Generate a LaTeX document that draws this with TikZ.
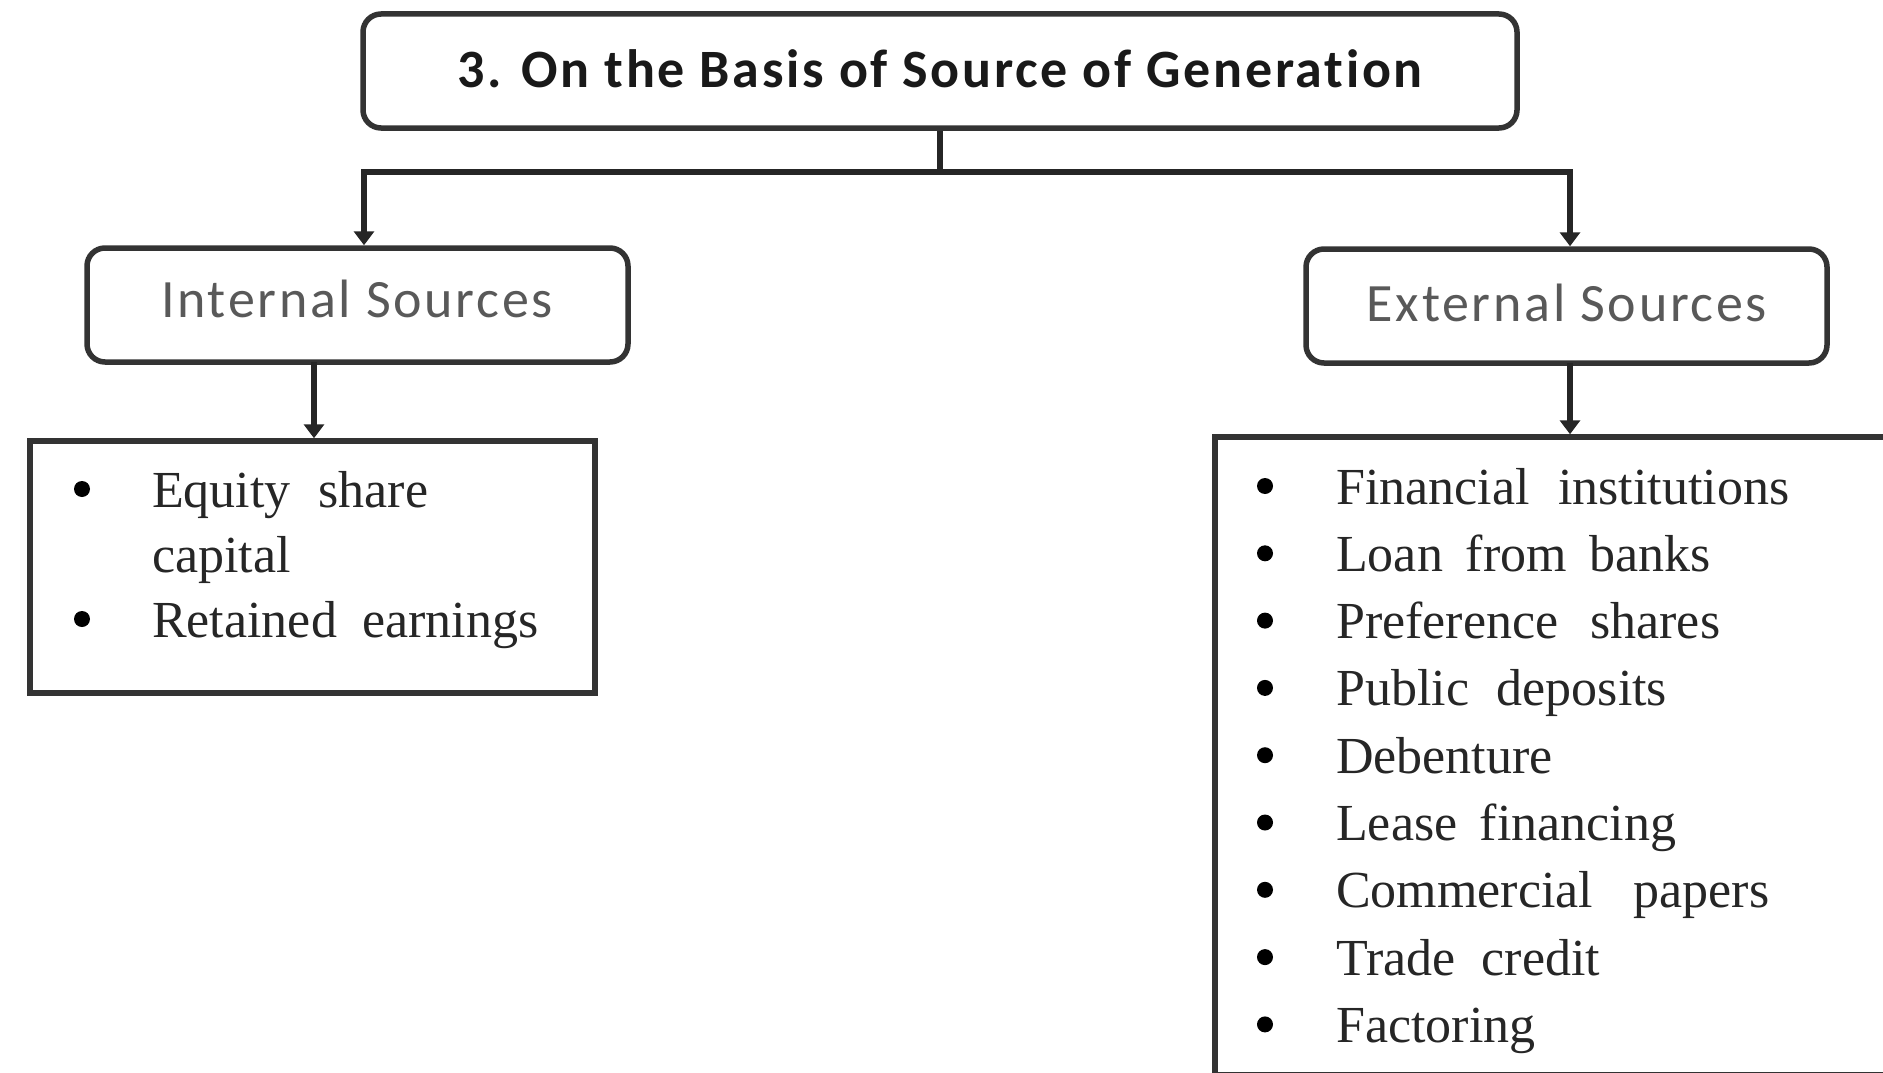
\documentclass[tikz,border=0pt]{standalone}
\usepackage{fontspec}
\setmainfont{Liberation Serif}
\newfontfamily\headfont[LetterSpace=5,Ligatures={NoCommon,NoDiscretionary}]{Carlito}
\usetikzlibrary{arrows.meta}
\begin{document}
\begin{tikzpicture}[x=1pt,y=-1pt,
  hbox/.style={draw=black!80, line width=5.5pt, rounded corners=18pt, inner sep=0pt, fill=white},
  lbox/.style={draw=black!80, line width=5.5pt, inner sep=0pt},
  conn/.style={draw=black!85, line width=5.5pt},
  arr/.style={-{Triangle[width=20pt,length=14pt]}},
  headtxt/.style={anchor=base, inner sep=0pt, font=\headfont\fontsize{54}{60}\selectfont},
  itemtxt/.style={anchor=base west, inner sep=0pt, text=black!85, font=\fontsize{52}{60}\selectfont},
  dot/.style={circle, fill=black, inner sep=0pt, minimum size=16pt}]
\useasboundingbox (0,0) rectangle (1883,1073);
\clip (0,0) rectangle (1883,1073);
\fill[white] (0,0) rectangle (1883,1073);

% boxes
\node[hbox, minimum width=1154pt, minimum height=114pt] (top) at (940,71) {};
\node[hbox, minimum width=541pt, minimum height=114pt] (intbox) at (357.5,305) {};
\node[hbox, minimum width=521pt, minimum height=114pt] (extbox) at (1566.5,306) {};
\node[lbox, minimum width=565pt, minimum height=252pt] (leftlist) at (312.5,567) {};
\node[lbox, minimum width=685pt, minimum height=638pt] (rightlist) at (1557.5,756) {};

% header texts
\node[headtxt, text=black!90, font=\headfont\bfseries\fontsize{54}{60}\selectfont] (toptxt) at (940,88) {3. On the Basis of Source of Generation};
\node[headtxt, text=black!65] (inttxt) at (357,317) {Internal Sources};
\node[headtxt, text=black!65] (exttxt) at (1567,321) {External Sources};

% connectors
\coordinate (jl) at (364,172);
\coordinate (jr) at (1570,172);
\coordinate (jm) at (top.south |- jl);
\draw[conn] (top.south) -- (jm);
\draw[conn, arr] (jm) -- (jl) -- (jl |- intbox.north);
\draw[conn, arr] (jm) -- (jr) -- (jr |- extbox.north);
\coordinate (il) at (314,362);
\draw[conn, arr] (il) -- (il |- leftlist.north);
\coordinate (el) at (1570,363);
\draw[conn, arr] (el) -- (el |- rightlist.north);

% left list
\node[dot] (lb1) at (82,489) {};
\node[dot] (lb2) at (82,619) {};
\node[itemtxt] (lt1) at (152,507) {\makebox[276pt][s]{Equity share}};
\node[itemtxt] (lt2) at (152,572) {capital};
\node[itemtxt] (lt3) at (152,637) {\makebox[386pt][s]{Retained earnings}};

% right list
\node[dot] (rb1) at (1265,486.0) {};
\node[dot] (rb2) at (1265,553.3) {};
\node[dot] (rb3) at (1265,620.6) {};
\node[dot] (rb4) at (1265,687.9) {};
\node[dot] (rb5) at (1265,755.2) {};
\node[dot] (rb6) at (1265,822.5) {};
\node[dot] (rb7) at (1265,889.8) {};
\node[dot] (rb8) at (1265,957.1) {};
\node[dot] (rb9) at (1265,1024.4) {};
\node[itemtxt] (rt1) at (1336,504.0) {\makebox[453pt][s]{Financial institutions}};
\node[itemtxt] (rt2) at (1336,571.3) {\makebox[375pt][s]{Loan from banks}};
\node[itemtxt] (rt3) at (1336,638.6) {\makebox[384pt][s]{Preference shares}};
\node[itemtxt] (rt4) at (1336,705.9) {\makebox[331pt][s]{Public deposits}};
\node[itemtxt] (rt5) at (1336,773.2) {Debenture};
\node[itemtxt] (rt6) at (1336,840.5) {\makebox[340pt][s]{Lease financing}};
\node[itemtxt] (rt7) at (1336,907.8) {\makebox[433pt][s]{Commercial papers}};
\node[itemtxt] (rt8) at (1336,975.1) {\makebox[264pt][s]{Trade credit}};
\node[itemtxt] (rt9) at (1336,1042.4) {Factoring};
\end{tikzpicture}
\end{document}
